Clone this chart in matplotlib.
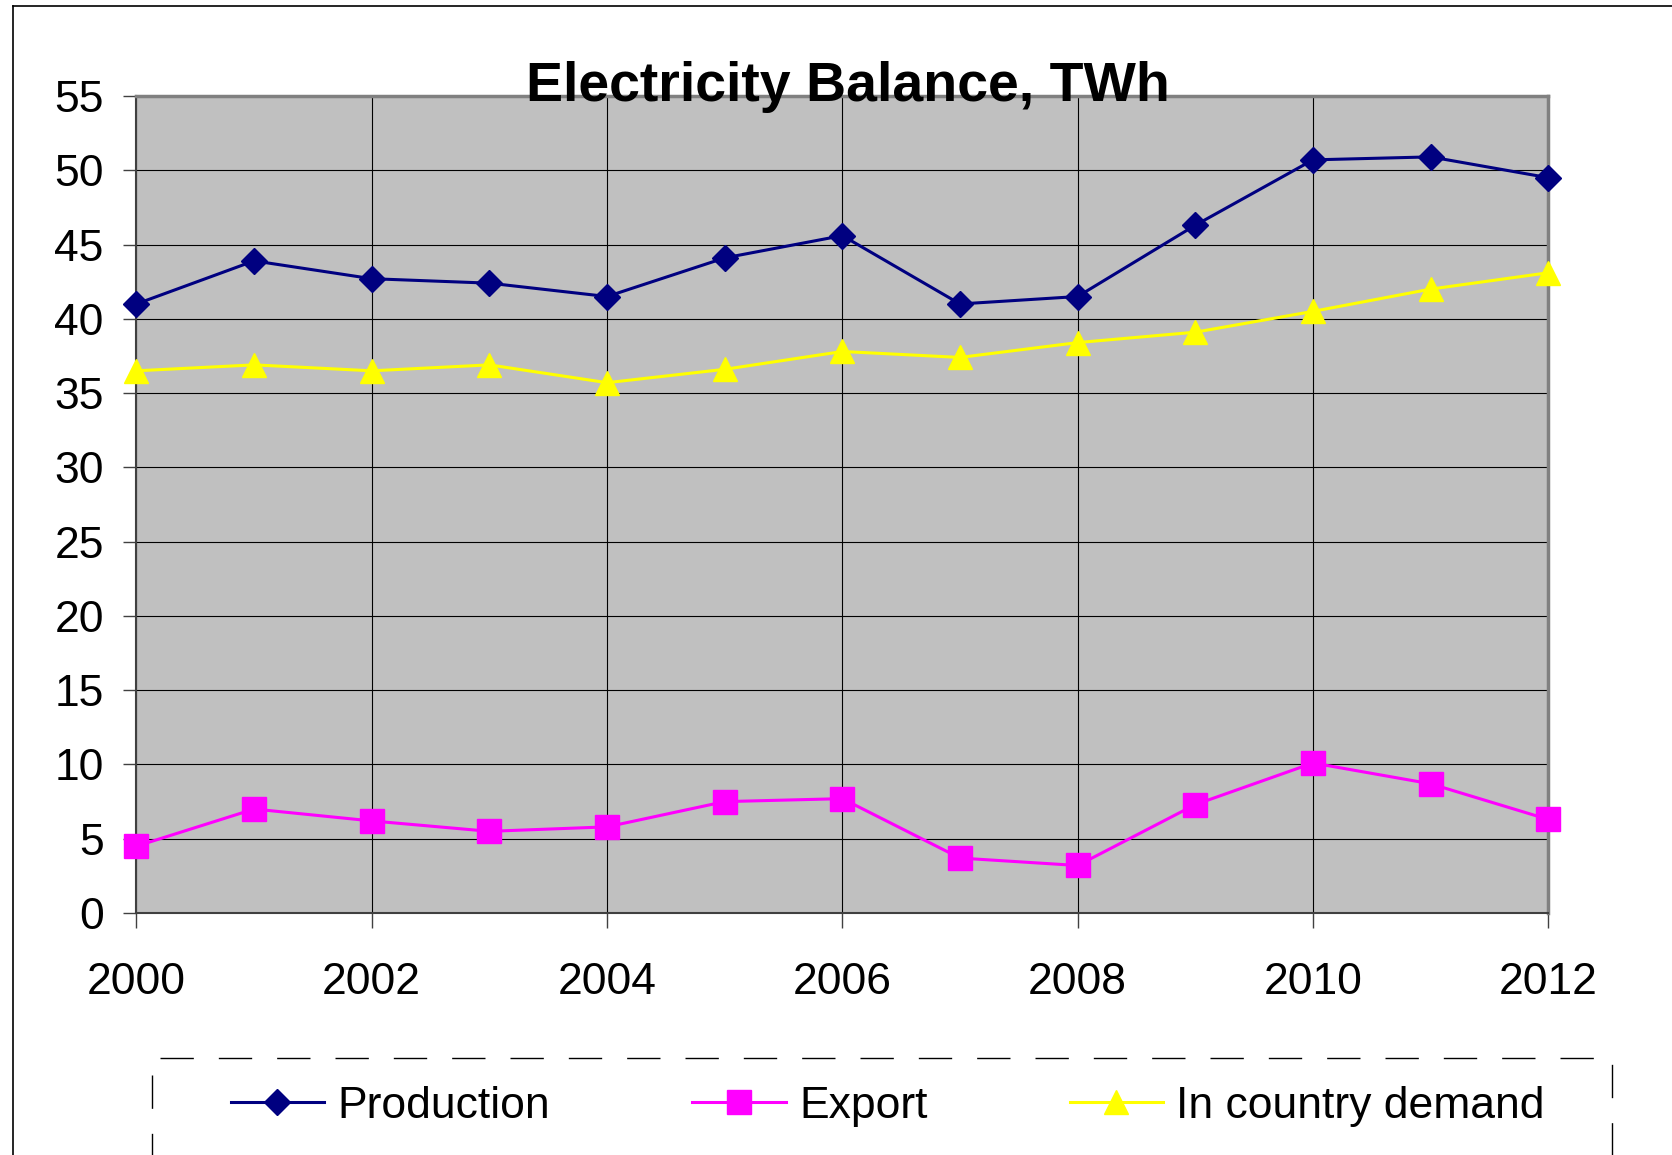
import matplotlib
matplotlib.use("Agg")
from matplotlib import pyplot as plt
from matplotlib.lines import Line2D
from matplotlib.patches import Rectangle

years = list(range(2000, 2013))
production = [41.0, 43.9, 42.7, 42.4, 41.5, 44.1, 45.6, 41.0, 41.5, 46.3, 50.7, 50.9, 49.5]
export = [4.5, 7.0, 6.2, 5.5, 5.8, 7.5, 7.7, 3.7, 3.2, 7.3, 10.1, 8.7, 6.3]
demand = [36.5, 36.9, 36.5, 36.9, 35.7, 36.6, 37.8, 37.4, 38.4, 39.1, 40.5, 42.0, 43.1]
x_ticks = list(range(2000, 2013, 2))
y_ticks = list(range(0, 56, 5))

plt.rcParams['font.family'] = ['Liberation Sans', 'DejaVu Sans']

fig = plt.figure(figsize=(16.72, 11.55), dpi=100)
ax = fig.add_axes([0.0816, 0.2095, 0.8444, 0.7074])
ax.set_facecolor('#C0C0C0')

ax.plot(years, production, color='#000080', linewidth=2.2, marker='D',
        markersize=13, label='Production', zorder=4, clip_on=False)
ax.plot(years, export, color='#FF00FF', linewidth=2.2, marker='s',
        markersize=17, label='Export', zorder=4, clip_on=False)
ax.plot(years, demand, color='#FFFF00', linewidth=2.2, marker='^',
        markersize=17, label='In country demand', zorder=4, clip_on=False)

ax.set_xlim(2000, 2012)
ax.set_ylim(0, 55)
ax.set_xticks(x_ticks)
ax.set_yticks(y_ticks)
ax.grid(True, color='black', linewidth=0.8)
ax.set_axisbelow(True)
ax.tick_params(axis='y', labelsize=32, length=9.5, width=1, pad=14, color='#404040')
ax.tick_params(axis='x', labelsize=32, length=11, width=1, pad=24, color='#404040')

for side in ['top', 'right']:
    ax.spines[side].set_color('#808080')
    ax.spines[side].set_linewidth(2.5)
for side in ['left', 'bottom']:
    ax.spines[side].set_color('#404040')
    ax.spines[side].set_linewidth(1.5)

fig.text(0.507, 0.9126, 'Electricity Balance, TWh', fontsize=40,
         fontweight='bold', ha='center', va='baseline', zorder=10)

# outer chart border
fig.add_artist(Line2D([13 / 1672, 1], [1 - 6 / 1155, 1 - 6 / 1155],
                      color='black', linewidth=1.2))
fig.add_artist(Line2D([13 / 1672, 13 / 1672], [0, 1 - 6 / 1155],
                      color='black', linewidth=1.2))

# legend box, dashed, running off the bottom
fig.add_artist(Rectangle((0.0909, -0.1), 0.964 - 0.0909, 0.084 + 0.1,
                         transform=fig.transFigure, fill=False,
                         edgecolor='black', linewidth=1,
                         linestyle=(0, (24, 18))))
fig.legend(loc='center', bbox_to_anchor=(0.531, 0.042), ncol=3,
           frameon=False, fontsize=32, handlelength=2.1,
           handletextpad=0.3, columnspacing=3.2)

fig.savefig('out.png', dpi=100)
